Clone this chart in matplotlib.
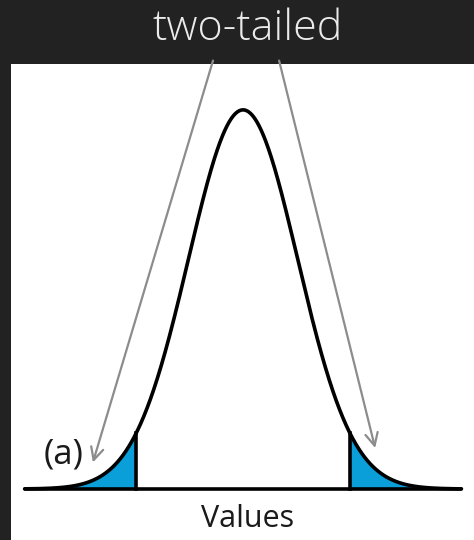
import numpy as np
import matplotlib
matplotlib.use('Agg')
import matplotlib.pyplot as plt

# Standard normal curve with two-tailed rejection regions
MEAN = 0.0
SD = 1.0
Z_CRIT = 1.96
X_RANGE = [-4.0, 4.0]

# Pointer arrows: (tail x, tail y) -> (head x, head y), in curve units
ARROW_LEFT = [(-0.55, 1.13), (-2.75, 0.07)]
ARROW_RIGHT = [(0.66, 1.13), (2.42, 0.108)]

TITLE = "two-tailed"
X_LABEL = "Values"
PANEL_TAG = "(a)"

BG = "#222222"
FILL = "#0a9fd9"
ARROW_COLOR = "#8c8c8c"

W, H = 474, 540
fig = plt.figure(figsize=(W / 100, H / 100), dpi=100, facecolor=BG)

# white panel
ax = fig.add_axes([11 / W, 0, 1 - 11 / W, (H - 64) / H])
ax.set_facecolor("white")
for s in ax.spines.values():
    s.set_visible(False)
ax.set_xticks([])
ax.set_yticks([])
ax.set_xlim(-4.25, 4.23)
ax.set_ylim(-0.1346, 1.121)

x = np.linspace(X_RANGE[0], X_RANGE[1], 800)
y = np.exp(-0.5 * ((x - MEAN) / SD) ** 2)

lo = x <= MEAN - Z_CRIT * SD
hi = x >= MEAN + Z_CRIT * SD
ax.fill_between(x[lo], 0, y[lo], color=FILL, lw=0)
ax.fill_between(x[hi], 0, y[hi], color=FILL, lw=0)

ax.plot(x, y, color="black", lw=2.6, solid_capstyle="round")
ax.plot(X_RANGE, [0, 0], color="black", lw=2.6, solid_capstyle="round")
y_crit = np.exp(-0.5 * Z_CRIT ** 2)
for xc in (MEAN - Z_CRIT * SD, MEAN + Z_CRIT * SD):
    ax.plot([xc, xc], [0, y_crit], color="black", lw=2.6)

for (tail, head) in (ARROW_LEFT, ARROW_RIGHT):
    ax.annotate("", xy=head, xytext=tail,
                arrowprops=dict(arrowstyle="->,head_length=0.9,head_width=0.45",
                                color=ARROW_COLOR, lw=1.6, shrinkA=0, shrinkB=0),
                annotation_clip=False)

ax.text(-2.92, 0.092, PANEL_TAG, fontsize=25, ha="right", va="center",
        color="#1a1a1a", family="Open Sans")
ax.text(0.09, -0.078, X_LABEL, fontsize=22, ha="center", va="center",
        color="#1a1a1a", family="Open Sans")

fig.text(248 / W, 1 - 29 / H, TITLE, fontsize=31, ha="center", va="center",
         color="#ebebeb", family="Open Sans", fontweight="light")

fig.savefig("out.png", dpi=100, facecolor=BG)
